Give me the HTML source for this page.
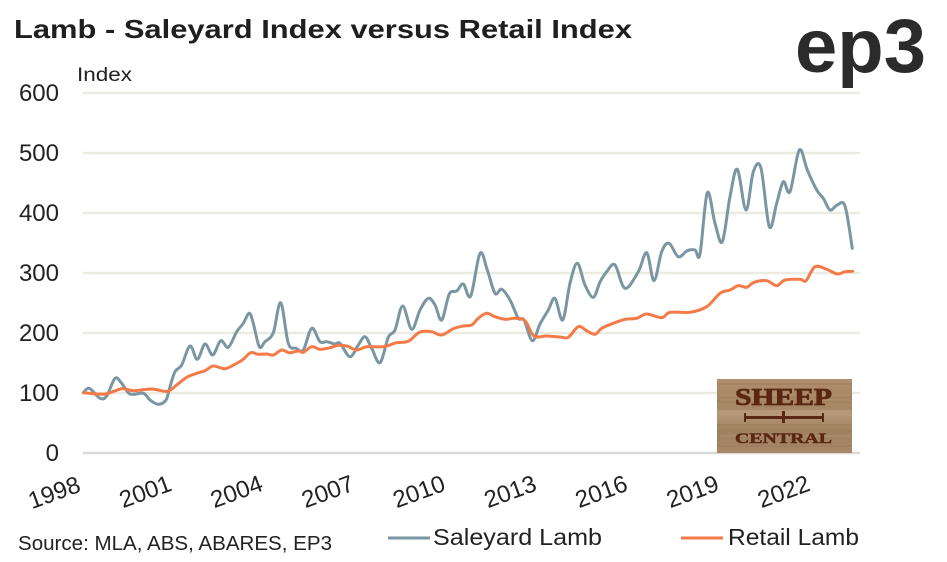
<!DOCTYPE html>
<html><head><meta charset="utf-8">
<style>
html,body{margin:0;padding:0;background:#fff;}
svg{display:block;}
text{font-family:"Liberation Sans",sans-serif;}
</style></head>
<body>
<svg id="c" width="947" height="562" viewBox="0 0 947 562" xmlns="http://www.w3.org/2000/svg">
<defs>
<linearGradient id="wood" x1="0" y1="0" x2="0" y2="1">
<stop offset="0" stop-color="#b09070"/>
<stop offset="0.3" stop-color="#a3835f"/>
<stop offset="0.45" stop-color="#b89a7a"/>
<stop offset="0.7" stop-color="#9f805f"/>
<stop offset="1" stop-color="#a88869"/>
</linearGradient>
</defs>
<rect width="947" height="562" fill="#fff"/>
<text x="14" y="38" font-size="26" font-weight="bold" fill="#1f1f1f" textLength="618" lengthAdjust="spacingAndGlyphs">Lamb - Saleyard Index versus Retail Index</text>
<text x="795" y="72" font-size="76" font-weight="bold" fill="#2b2b2b" textLength="131" lengthAdjust="spacingAndGlyphs">ep3</text>
<text x="77" y="81" font-size="19" fill="#222" textLength="55" lengthAdjust="spacingAndGlyphs">Index</text>
<g stroke="#ebebe1" stroke-width="2.5">
<line x1="83" y1="93" x2="860" y2="93"/>
<line x1="83" y1="153" x2="860" y2="153"/>
<line x1="83" y1="213" x2="860" y2="213"/>
<line x1="83" y1="273" x2="860" y2="273"/>
<line x1="83" y1="333" x2="860" y2="333"/>
<line x1="83" y1="393" x2="860" y2="393"/>
</g>
<line x1="83" y1="453" x2="860" y2="453" stroke="#d9d9d9" stroke-width="2.5"/>
<g font-size="24" fill="#222" text-anchor="end">
<text x="59" y="101">600</text>
<text x="59" y="161">500</text>
<text x="59" y="221">400</text>
<text x="59" y="281">300</text>
<text x="59" y="341">200</text>
<text x="59" y="401">100</text>
<text x="59" y="461">0</text>
</g>
<g font-size="24" fill="#222" text-anchor="end">
<text transform="translate(82,491) rotate(-20)">1998</text>
<text transform="translate(173.2,490) rotate(-20)">2001</text>
<text transform="translate(264.4,490) rotate(-20)">2004</text>
<text transform="translate(355.6,490) rotate(-20)">2007</text>
<text transform="translate(446.8,490) rotate(-20)">2010</text>
<text transform="translate(538,490) rotate(-20)">2013</text>
<text transform="translate(629.2,490) rotate(-20)">2016</text>
<text transform="translate(720.4,490) rotate(-20)">2019</text>
<text transform="translate(811.6,490) rotate(-20)">2022</text>
</g>
<!-- Sheep Central sign -->
<g>
<rect x="717" y="379" width="135" height="74" fill="url(#wood)"/>
<g stroke="#8e6e50" stroke-width="0.8" opacity="0.7">
<line x1="717" y1="384" x2="852" y2="384"/>
<line x1="717" y1="407" x2="852" y2="407"/>
<line x1="717" y1="409" x2="852" y2="409"/>
<line x1="717" y1="425" x2="852" y2="425"/>
<line x1="717" y1="446" x2="852" y2="446"/>
</g>
<g stroke="#c4a888" stroke-width="0.8" opacity="0.6">
<line x1="720" y1="395" x2="850" y2="395"/>
<line x1="720" y1="415" x2="850" y2="415"/>
<line x1="720" y1="436" x2="850" y2="436"/>
<line x1="720" y1="400" x2="850" y2="400"/>
</g>
<text x="735" y="405" style="font-family:'Liberation Serif',serif;font-weight:bold" font-size="24" fill="#5a2712" stroke="#5a2712" stroke-width="0.8" textLength="97" lengthAdjust="spacingAndGlyphs">SHEEP</text>
<g fill="#5a2712">
<rect x="745" y="416" width="78" height="3"/>
<rect x="744" y="413" width="2" height="9"/>
<rect x="822" y="413" width="2" height="9"/>
<rect x="782" y="411" width="3" height="12"/>
</g>
<text x="735" y="443" style="font-family:'Liberation Serif',serif;font-weight:bold" font-size="15" fill="#5a2712" stroke="#5a2712" stroke-width="0.5" textLength="97" lengthAdjust="spacingAndGlyphs">CENTRAL</text>
</g>
<path id="sale" fill="none" stroke="#7a96a2" stroke-width="3" stroke-linejoin="round" stroke-linecap="round" d=""/>
<path id="ret" fill="none" stroke="#f47b47" stroke-width="3" stroke-linejoin="round" stroke-linecap="round" d=""/>
<!-- legend -->
<text x="18" y="550" font-size="20" fill="#222" textLength="314" lengthAdjust="spacingAndGlyphs">Source: MLA, ABS, ABARES, EP3</text>
<line x1="388" y1="538" x2="430" y2="538" stroke="#7a96a2" stroke-width="3"/>
<text x="433" y="545" font-size="23" fill="#222" textLength="169" lengthAdjust="spacingAndGlyphs">Saleyard Lamb</text>
<line x1="681" y1="538" x2="723" y2="538" stroke="#f47b47" stroke-width="3"/>
<text x="728" y="545" font-size="23" fill="#222" textLength="131" lengthAdjust="spacingAndGlyphs">Retail Lamb</text>
</svg>
<script>
var S="83.3,392.7 89.3,388.3 100,398.3 106.7,396 115,378.3 121.7,383.3 130,394 143.3,393.3 150,400 158.3,404.3 166,400 170,386.7 175,371.7 181.7,365 190,346 197.3,359.3 205,344 212.7,355 220.7,340.7 228.3,347.3 236.7,331.7 243.3,323.3 249.3,313.3 253.3,323.3 259.3,346.7 265,341.7 273.3,332.7 280.7,302.7 288.3,343.3 296,348.3 303.3,350 311.7,328.3 320,341.7 326.7,341.7 335,344 340,343.3 350,356.7 358.3,345 365,336.7 371.7,348.3 380,362.7 388.3,337.3 395,330 402.7,306 411.7,329.3 420,310 428.3,298.3 435,305 441.7,320 449.3,294 456.7,291 463.3,284 470.7,296 480,253.3 487.3,270 495,293.3 501.7,289.3 510,300 518.3,318.3 524,320 532.3,340.7 540,324 548.3,310 555,298.3 562.7,320 570,283.3 577.3,263.3 585,285 593.3,297.3 600,282 606.7,271.7 615,265 625,288.3 638.3,271.7 646.7,252.7 654,280.7 661.7,251.7 669,243.3 678.3,256.7 687.3,250.7 695,250 700,254 707.3,192.7 715,223.3 722.3,241.7 730,196.7 737.3,169.3 746,210 753.3,171.7 761,168.3 769.3,226.7 776.7,203.3 783.3,181.7 790,191.7 799.3,150 807.3,170 816.7,190 823.3,198.3 830,210 837.3,205 845,206 852.3,248.3";
var R="83.3,392.7 105,394 121.7,388.7 133.3,390.7 151.7,389 167.3,391.3 176.7,385 186.7,377.3 196.7,373.3 205,370.7 213.3,366 225,368.7 236.7,363.3 243.3,359.3 250.7,352.7 258.3,354.3 266.7,354 273.3,355 281.7,350 289.3,352.7 298.3,351 303.3,352.3 311.7,346.7 320,349.3 330,347.7 338.3,345.3 346.7,346 356.7,350 366.7,346.7 383.3,346.7 396.7,342.7 408.3,341.3 420,332 431.7,331.7 441.7,335 453.3,328.7 463.3,326 471.7,325 478.3,318.3 486.7,313.3 495,316.7 505,319.3 515,318.3 525,320.7 534,336 546.7,336 560,337 568.3,337.3 578.3,326.7 586.7,330.7 595,334.3 601.7,328.3 613.3,323.3 625,319.3 636.7,318.3 646.7,314 661.7,317.7 670,312.3 690,312.3 706.7,306.7 720,293.3 730,290 738.3,285.7 746.7,287.3 754,282.3 766.7,280.7 776.7,285.7 785,280 800,279.3 806,280.7 815,266.7 826.7,269.3 837.3,274 845,271.7 852.7,271.3";
function parse(s){return s.split(" ").map(function(p){var a=p.split(",");return [+a[0],+a[1]];});}
function smooth(p){var d="M"+p[0][0]+","+p[0][1];for(var i=0;i<p.length-1;i++){var p0=p[i>0?i-1:i],p1=p[i],p2=p[i+1],p3=p[i+2<p.length?i+2:i+1];var c1x=p1[0]+(p2[0]-p0[0])/6,c1y=p1[1]+(p2[1]-p0[1])/6,c2x=p2[0]-(p3[0]-p1[0])/6,c2y=p2[1]-(p3[1]-p1[1])/6;d+=" C"+c1x.toFixed(2)+","+c1y.toFixed(2)+" "+c2x.toFixed(2)+","+c2y.toFixed(2)+" "+p2[0]+","+p2[1];}return d;}
document.getElementById("sale").setAttribute("d",smooth(parse(S)));
document.getElementById("ret").setAttribute("d",smooth(parse(R)));
</script>
</body></html>
